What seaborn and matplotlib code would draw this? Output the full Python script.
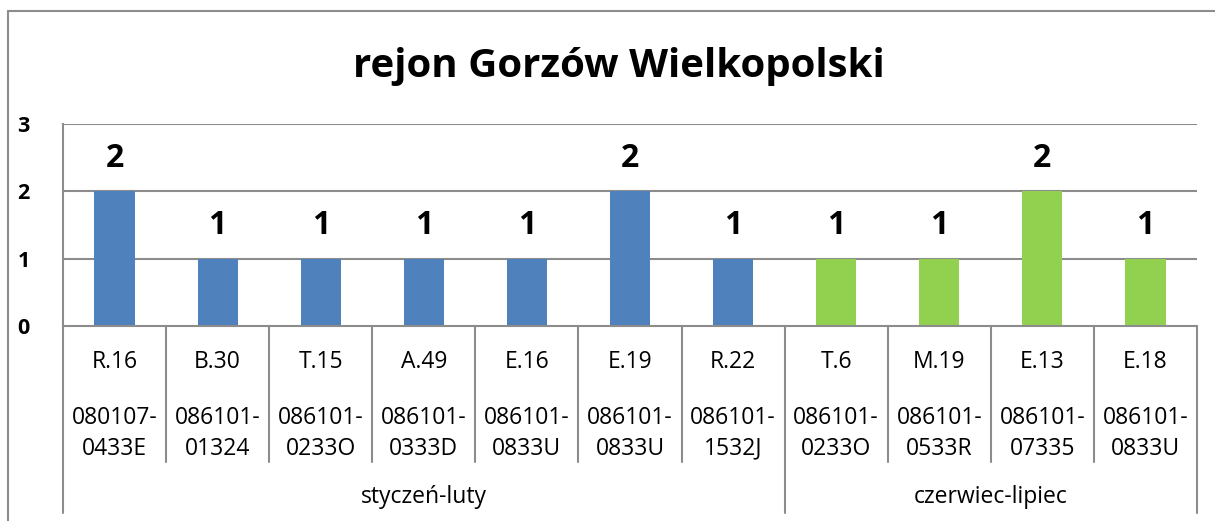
import matplotlib
matplotlib.use('Agg')
import matplotlib.pyplot as plt
from matplotlib.lines import Line2D
import pandas as pd
import seaborn as sns

sns.set_style("white")
plt.rcParams['font.family'] = ['Open Sans', 'DejaVu Sans']
plt.rcParams['text.color'] = 'black'
plt.rcParams['ytick.color'] = 'black'

# data
names = ['R.16', 'B.30', 'T.15', 'A.49', 'E.16', 'E.19', 'R.22',
         'T.6', 'M.19', 'E.13', 'E.18']
codes = ['080107-\n0433E', '086101-\n01324', '086101-\n0233O', '086101-\n0333D',
         '086101-\n0833U', '086101-\n0833U', '086101-\n1532J',
         '086101-\n0233O', '086101-\n0533R', '086101-\n07335', '086101-\n0833U']
periods = ['styczeń-luty'] * 7 + ['czerwiec-lipiec'] * 4
values = [2, 1, 1, 1, 1, 2, 1, 1, 1, 2, 1]
group_names = ['styczeń-luty', 'czerwiec-lipiec']
group_colors = {'styczeń-luty': '#4F81BD', 'czerwiec-lipiec': '#92D050'}

df = pd.DataFrame({'pos': list(range(len(names))), 'name': names,
                   'period': periods, 'value': values})

W, H = 1215, 521
fig = plt.figure(figsize=(W / 100, H / 100), dpi=100)
ax = fig.add_axes([63 / W, 1 - 326 / H, (1197 - 63) / W, (326 - 124) / H])

sns.barplot(data=df, x='pos', y='value', hue='period', palette=group_colors,
            hue_order=group_names, dodge=False, width=0.39, ax=ax,
            legend=False, saturation=1, linewidth=0)

grid_c = '#8C8C8C'
ax.set_ylim(0, 3)
ax.set_xlim(-0.5, len(names) - 0.5)
ax.set_yticks([0, 1, 2, 3])
ax.set_yticklabels(['0', '1', '2', '3'], fontsize=15.5, fontweight='bold')
ax.tick_params(axis='y', length=0, pad=24)
ax.set_xticks([])
ax.set_xlabel('')
ax.set_ylabel('')
for y in [1, 2, 3]:
    ax.axhline(y, color=grid_c, lw=1.5, zorder=0)
for s in ['top', 'right', 'bottom']:
    ax.spines[s].set_visible(False)
ax.spines['left'].set_color(grid_c)
ax.spines['left'].set_linewidth(1.5)
ax.axhline(0, color=grid_c, lw=1.5, zorder=3, clip_on=False)

# value labels
for c in ax.containers:
    ax.bar_label(c, fmt='%d', padding=12, fontsize=23, fontweight='bold')

# multi-level category axis
tr = ax.get_xaxis_transform()
for i in range(len(names)):
    ax.text(i, -0.178, names[i], transform=tr, ha='center', va='center', fontsize=16.5)
    ax.text(i, -0.532, codes[i], transform=tr, ha='center', va='center',
            fontsize=16.5, linespacing=1.35)
n1 = periods.count(group_names[0])
for i in range(1, len(names)):
    bottom = -0.926 if i == n1 else -0.673
    ax.add_line(Line2D([i - 0.5, i - 0.5], [0, bottom], transform=tr, color=grid_c,
                       lw=1.5, clip_on=False))
for xe in [-0.5, len(names) - 0.5]:
    ax.add_line(Line2D([xe, xe], [0, -0.926], transform=tr, color=grid_c,
                       lw=1.5, clip_on=False))
ax.text((n1 - 1) / 2, -0.847, group_names[0], transform=tr, ha='center', va='center',
        fontsize=16.5)
ax.text(n1 + (len(names) - n1 - 1) / 2, -0.847, group_names[1], transform=tr,
        ha='center', va='center', fontsize=16.5)

fig.text(619 / W, 1 - 66 / H, 'rejon Gorzów Wielkopolski', ha='center', va='center',
         fontsize=29, fontweight='bold')

# chart border
fig.add_artist(Line2D([8 / W, 1], [1 - 11 / H, 1 - 11 / H], color=grid_c, lw=1.5))
fig.add_artist(Line2D([8 / W, 8 / W], [0, 1 - 11 / H], color=grid_c, lw=1.5))

fig.savefig('out.png', dpi=100)
